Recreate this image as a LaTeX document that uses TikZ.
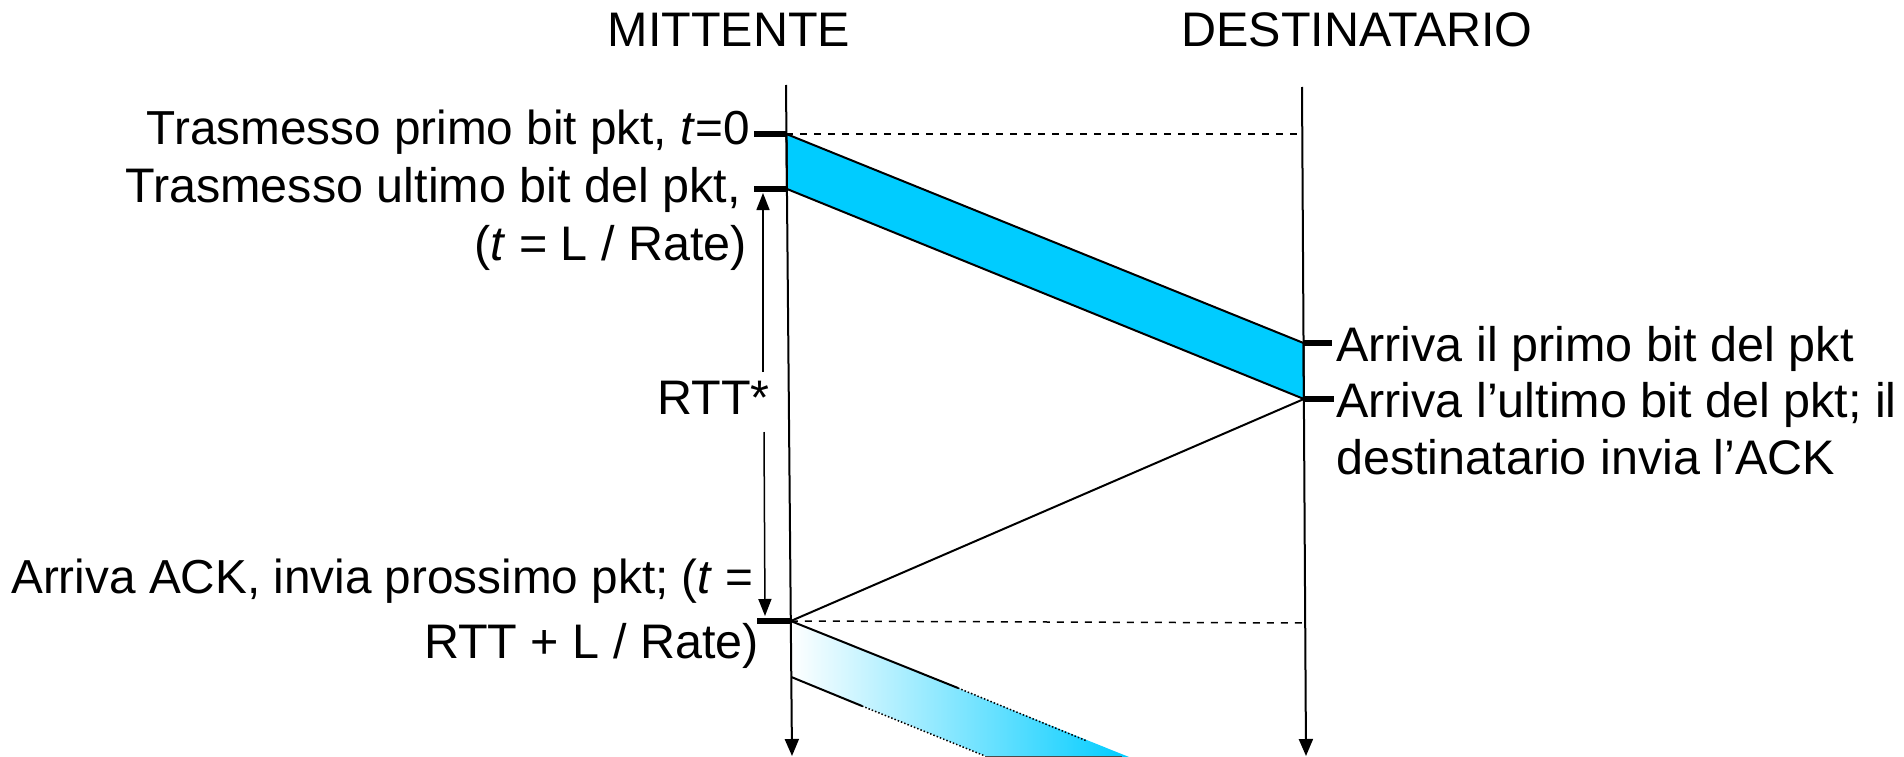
\documentclass[tikz,border=0pt]{standalone}
\usepackage{fontspec}
\setmainfont{Liberation Sans}
\usetikzlibrary{arrows.meta}
\definecolor{pktblue}{RGB}{0,204,255}
\begin{document}
\begin{tikzpicture}[x=1pt,y=-1pt,
  lbl/.style={inner sep=0pt, font=\fontsize{48.5}{57}\selectfont},
  lbls/.style={inner sep=0pt, font=\fontsize{47.7}{57}\selectfont},
  axis/.style={line width=2pt, -{Triangle[width=14pt,length=17pt]}},
  tickmark/.style={line width=6pt},
  pkt/.style={line width=2pt},
  guide/.style={line width=1.5pt, dash pattern=on 7pt off 7pt},
  rtt/.style={line width=1.5pt, -{Triangle[width=13pt,length=17pt]}}]
\useasboundingbox (0,0) rectangle (1904,757);
% key points
\coordinate (sTop) at (786,85);
\coordinate (sBot) at (792,756);
\coordinate (rTop) at (1302,87);
\coordinate (rBot) at (1306,756);
\coordinate (s0) at (786.4,134);
\coordinate (s1) at (787,189);
\coordinate (r0) at (1303.5,343);
\coordinate (r1) at (1303.9,399);
\coordinate (s2) at (790.8,621);
\coordinate (s3) at (791.3,677);
\coordinate (d0) at (1302.3,134);
\coordinate (d2) at (1305.3,623);
\coordinate (g0) at (1129,757);
\coordinate (g1) at (988,757);
\coordinate (ts) at (958,688);
\coordinate (te) at (1087,741);
\coordinate (bs) at (862,706);
\coordinate (be) at (985,756);
\coordinate (t0) at (754,134);
\coordinate (t1) at (754,189);
\coordinate (t2) at (757,621);
\coordinate (u0) at (1332,343);
\coordinate (u1) at (1334,399);
\coordinate (a0) at (763,372);
\coordinate (a1) at (763,193);
\coordinate (a2) at (764,432);
\coordinate (a3) at (765,616);
% packets
\filldraw[pkt, fill=pktblue] (s0) -- (r0) -- (r1) -- (s1) -- cycle;
\shade[left color=white, right color=pktblue] (s2) -- (g0) -- (g1) -- (s3) -- cycle;
\draw[pkt] (s2) -- (ts);
\draw[line width=1.5pt, dotted] (ts) -- (te);
\draw[pkt] (s3) -- (bs);
\draw[line width=1.5pt, dotted] (bs) -- (be);
\draw[line width=1pt, black!70] (be) -- (1122,756);
\draw[pkt] (r1) -- (s2);
% guides
\draw[guide] (s0) -- (d0);
\draw[guide] (s2) -- (d2);
% axes
\draw[axis] (sTop) -- (sBot);
\draw[axis] (rTop) -- (rBot);
% ticks
\draw[tickmark] (t0) -- (s0);
\draw[tickmark] (t1) -- (s1);
\draw[tickmark] (t2) -- (s2);
\draw[tickmark] (r0) -- (u0);
\draw[tickmark] (r1) -- (u1);
% RTT
\draw[rtt] (a0) -- (a1);
\draw[rtt] (a2) -- (a3);
% labels
\node[lbl, anchor=base] (hm) at (729,47) {MITTENTE};
\node[lbl, anchor=base] (hd) at (1357,47) {DESTINATARIO};
\node[lbls, anchor=base east] (l1) at (750,145) {Trasmesso primo bit pkt, \textit{t}=0};
\node[lbl, anchor=base east] (l2) at (741,202) {Trasmesso ultimo bit del pkt,};
\node[lbl, anchor=base east] (l3) at (747,260) {(\textit{t} = L / Rate)};
\node[lbl, anchor=base east] (rt) at (770,414) {RTT*};
\node[lbl, anchor=base west] (r1l) at (1336,361) {Arriva il primo bit del pkt};
\node[lbl, anchor=base west] (r2l) at (1336,417) {Arriva l’ultimo bit del pkt; il};
\node[lbl, anchor=base west] (r3l) at (1336,474) {destinatario invia l’ACK};
\node[lbls, anchor=base east] (b1) at (754,593) {Arriva ACK, invia prossimo pkt; (\textit{t} =};
\node[lbl, anchor=base east] (b2) at (759,658) {RTT + L / Rate)};
\end{tikzpicture}
\end{document}
